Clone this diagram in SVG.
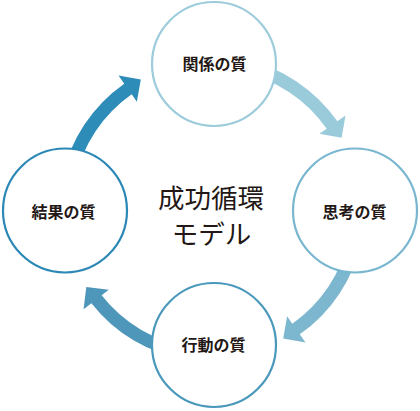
<svg xmlns="http://www.w3.org/2000/svg" width="420" height="411" viewBox="0 0 420 411">
<style>
.node circle{fill:#fff;stroke-width:2.2}
.lbl{font-family:"Noto Sans CJK JP","Noto Sans CJK SC",sans-serif;font-weight:700;font-size:16px;fill:#231815;text-anchor:middle}
.ctr{font-family:"Noto Sans CJK JP","Noto Sans CJK SC",sans-serif;font-weight:400;font-size:26.5px;fill:#231815;text-anchor:middle}
</style>
<defs>
<path id="arw" d="M62.34 177.19 A153 153 0 0 1 124.24 83.66 L118.5 75.47 L140.8 79.4 L136.86 101.68 L131.7 94.31 A140 140 0 0 0 75.06 179.89 Z"/>
</defs>
<g id="connectors">
<use href="#arw" fill="#2e8cb9"/>
<use href="#arw" fill="#9acbdb" transform="rotate(90 212 209)"/>
<use href="#arw" fill="#7db7cf" transform="rotate(180 212 209)"/>
<use href="#arw" fill="#4e97ba" transform="rotate(267 212 209)"/>
</g>
<g id="node-kankei" class="node"><circle cx="214" cy="64" r="62" stroke="#9ccbdb"/><text class="lbl" x="214.5" y="69.5">関係の質</text></g>
<g id="node-shikou" class="node"><circle cx="355" cy="210.5" r="62" stroke="#79b6cf"/><text class="lbl" x="354.5" y="218">思考の質</text></g>
<g id="node-koudou" class="node"><circle cx="214" cy="345" r="62" stroke="#4a98bb"/><text class="lbl" x="213.5" y="351">行動の質</text></g>
<g id="node-kekka" class="node"><circle cx="65" cy="210.5" r="62" stroke="#2b88b6"/><text class="lbl" x="63.5" y="218">結果の質</text></g>
<g id="center-title">
<text class="ctr" x="211" y="207.5">成功循環</text>
<text class="ctr" x="211.5" y="243.5">モデル</text>
</g>
</svg>
